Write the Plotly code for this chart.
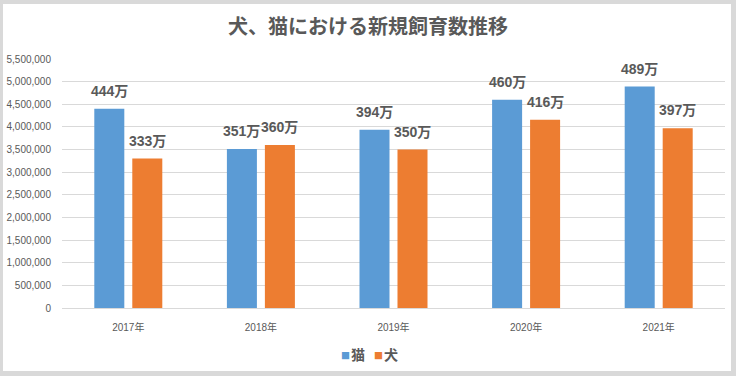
import plotly.graph_objects as go

years = ["2017年", "2018年", "2019年", "2020年", "2021年"]
cat_values = [4400000, 3510000, 3940000, 4600000, 4890000]
dog_values = [3300000, 3600000, 3500000, 4160000, 3970000]
cat_labels = ["444万", "351万", "394万", "460万", "489万"]
dog_labels = ["333万", "360万", "350万", "416万", "397万"]
series_names = ["猫", "犬"]
y_ticks = list(range(0, 5500001, 500000))

BLUE = "#5B9BD5"
ORANGE = "#ED7D31"
GRAY = "#595959"
FONT = "Liberation Sans, Noto Sans CJK JP, sans-serif"
CJK = "Noto Sans CJK JP, sans-serif"

fig = go.Figure()
fig.add_trace(go.Bar(name=series_names[0], x=years, y=cat_values,
                     marker=dict(color=BLUE, line=dict(width=0)), showlegend=False))
fig.add_trace(go.Bar(name=series_names[1], x=years, y=dog_values,
                     marker=dict(color=ORANGE, line=dict(width=0)), showlegend=False))

annotations = []
for yr, v, t in zip(years, cat_values, cat_labels):
    annotations.append(dict(x=yr, y=v, text=t, showarrow=False, xshift=-19, yshift=18,
                            font=dict(family=FONT, size=14, color=GRAY, weight="bold")))
for yr, v, t in zip(years, dog_values, dog_labels):
    annotations.append(dict(x=yr, y=v, text=t, showarrow=False, xshift=19, yshift=18,
                            font=dict(family=FONT, size=14, color=GRAY, weight="bold")))

L, R, T, B = 62, 11, 59, 68
W, H = 736, 376
pw, ph = W - L - R, H - T - B

def px_x(x):
    return (x - L) / pw

def px_y(y):
    return (H - B - y) / ph

# manual legend (small squares like the original)
legend_items = [(BLUE, series_names[0], 345, 358), (ORANGE, series_names[1], 378, 391)]
for color, name, sq_x, tx_x in legend_items:
    annotations.append(dict(xref="paper", yref="paper", x=px_x(sq_x), y=px_y(355),
                            xanchor="center", yanchor="middle", showarrow=False, text="■",
                            font=dict(family=CJK, size=9, color=color)))
    annotations.append(dict(xref="paper", yref="paper", x=px_x(tx_x), y=px_y(354),
                            xanchor="center", yanchor="middle", showarrow=False, text=name,
                            font=dict(family=CJK, size=14, color=GRAY, weight="bold")))

fig.add_shape(type="rect", xref="paper", yref="paper",
              x0=px_x(3), x1=px_x(731), y0=px_y(371), y1=px_y(4),
              fillcolor="white", line=dict(width=0), layer="below")

fig.update_layout(
    width=W, height=H,
    margin=dict(l=L, r=R, t=T, b=B, autoexpand=False),
    paper_bgcolor="#d9d9d9",
    plot_bgcolor="rgba(0,0,0,0)",
    barmode="group",
    bargap=0.427,
    bargroupgap=0.21,
    showlegend=False,
    title=dict(text="犬、猫における新規飼育数推移", x=0.5, xref="container", xanchor="center",
               y=1 - 27 / H, yanchor="middle",
               font=dict(family=CJK, size=20, color=GRAY, weight="bold")),
    annotations=annotations,
    xaxis=dict(showgrid=False, showline=True, linecolor="#d9d9d9", linewidth=1,
               tickfont=dict(family=FONT, size=10, color=GRAY), ticks="",
               ticklabelstandoff=10),
    yaxis=dict(range=[0, 5500000], tickvals=y_ticks, tickformat=",d",
               showgrid=True, gridcolor="#d9d9d9", gridwidth=1, zeroline=False,
               showline=False, tickfont=dict(family=FONT, size=10, color=GRAY),
               ticks="", ticklabelstandoff=10),
)

fig.write_html("out.html", config={"displayModeBar": False},
               post_script="document.body.style.margin='0';document.body.style.overflow='hidden';")
